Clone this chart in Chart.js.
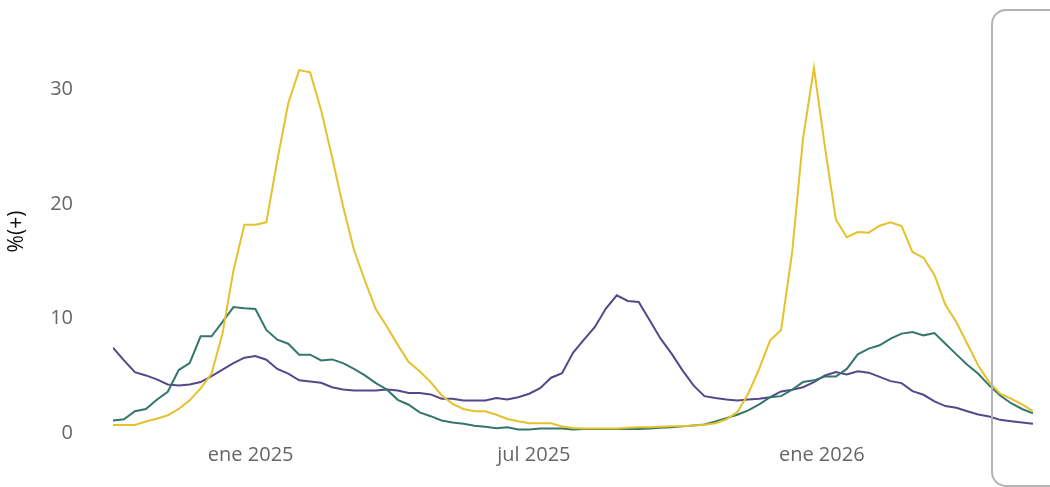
<!DOCTYPE html>
<html>
<head>
<meta charset="utf-8">
<script src="https://cdn.jsdelivr.net/npm/chart.js@4/dist/chart.umd.min.js"></script>
<style>
  html, body { margin: 0; padding: 0; background: #fff; }
  #wrap { width: 1050px; height: 487px; position: relative; }
</style>
</head>
<body>
<div id="wrap"><canvas id="myChart"></canvas></div>
<script>
// weekly series, first week 2024-10-05
var startWeek = '2024-10-05';
var nWeeks = 85;

var yellowVals = [0.7,0.7,0.7,1.0,1.25,1.55,2.1,2.85,3.9,5.2,8.7,14.2,18.2,18.2,18.4,
  23.8,28.8,31.7,31.5,28.2,24.1,19.8,16.0,13.3,10.8,9.3,7.7,6.2,5.4,4.45,
  3.3,2.55,2.1,1.9,1.9,1.6,1.22,1.02,0.85,0.85,0.85,0.57,0.44,0.4,0.4,
  0.4,0.4,0.45,0.5,0.5,0.55,0.6,0.6,0.65,0.72,0.86,1.2,1.82,3.43,5.6,
  8.1,9.0,15.7,25.7,31.9,25.0,18.65,17.1,17.55,17.5,18.1,18.4,18.07,15.8,15.3,
  13.8,11.2,9.7,7.8,5.9,4.45,3.43,3.0,2.5,1.9];

var tealVals = [1.1,1.2,1.9,2.1,2.9,3.6,5.5,6.1,8.45,8.45,9.7,11.0,10.9,10.83,9.0,
  8.15,7.8,6.84,6.84,6.34,6.43,6.1,5.6,5.03,4.36,3.8,2.9,2.47,1.8,1.47,
  1.1,0.92,0.8,0.63,0.54,0.42,0.5,0.3,0.3,0.39,0.39,0.39,0.3,0.35,0.35,
  0.35,0.35,0.35,0.35,0.4,0.45,0.5,0.58,0.66,0.74,1.0,1.3,1.6,1.97,2.5,
  3.13,3.22,3.78,4.45,4.6,4.94,4.94,5.6,6.87,7.37,7.66,8.24,8.68,8.82,8.53,
  8.73,7.8,6.87,5.97,5.18,4.16,3.28,2.6,2.1,1.73];

var purpleVals = [7.45,6.34,5.32,5.03,4.68,4.24,4.16,4.24,4.45,4.97,5.53,6.1,6.58,6.72,6.4,
  5.6,5.18,4.6,4.5,4.39,4.0,3.8,3.72,3.72,3.72,3.8,3.72,3.5,3.5,3.37,
  3.0,3.0,2.84,2.84,2.84,3.05,2.93,3.13,3.43,3.92,4.83,5.23,7.0,8.15,9.26,
  10.87,12.03,11.53,11.44,9.84,8.24,6.93,5.47,4.16,3.22,3.05,2.93,2.84,2.93,2.99,
  3.13,3.63,3.78,4.0,4.45,5.03,5.32,5.12,5.4,5.27,4.9,4.53,4.36,3.66,3.34,
  2.76,2.35,2.2,1.9,1.62,1.44,1.15,1.03,0.92,0.8];

var yTicks = [0, 10, 20, 30];
var xTickDates = ['2025-01-01', '2025-07-01', '2026-01-01'];
var xTickLabels = ['ene 2025', 'jul 2025', 'ene 2026'];
var yTitle = '%(+)';

function dayOf(d) {
  return (Date.parse(d) - Date.parse(startWeek)) / 864e5;
}

var weekDays = [];
for (var i = 0; i < nWeeks; i++) weekDays.push(i * 7);

function toPoints(vals) {
  return vals.map(function (v, i) { return { x: weekDays[i], y: v }; });
}

var xTickDays = xTickDates.map(dayOf);

// rounded grey box at the right edge (legend frame, cut off)
var boxPlugin = {
  id: 'legendBox',
  afterDatasetsDraw: function (chart) {
    var ctx = chart.ctx;
    var x = 992, y = 10, w = 90, h = 476, r = 14;
    ctx.save();
    ctx.strokeStyle = '#b3b3b3';
    ctx.lineWidth = 2;
    ctx.beginPath();
    ctx.moveTo(x + r, y);
    ctx.lineTo(x + w - r, y);
    ctx.arcTo(x + w, y, x + w, y + r, r);
    ctx.lineTo(x + w, y + h - r);
    ctx.arcTo(x + w, y + h, x + w - r, y + h, r);
    ctx.lineTo(x + r, y + h);
    ctx.arcTo(x, y + h, x, y + h - r, r);
    ctx.lineTo(x, y + r);
    ctx.arcTo(x, y, x + r, y, r);
    ctx.closePath();
    ctx.stroke();
    ctx.restore();
  }
};

Chart.defaults.font.family = "'Open Sans', sans-serif";

var ctx = document.getElementById('myChart').getContext('2d');
var chart = new Chart(ctx, {
  type: 'line',
  data: {
    datasets: [
      { label: 'yellow', data: toPoints(yellowVals), borderColor: '#e5c12b', borderWidth: 2 },
      { label: 'teal', data: toPoints(tealVals), borderColor: '#35766c', borderWidth: 2 },
      { label: 'purple', data: toPoints(purpleVals), borderColor: '#55488a', borderWidth: 2 }
    ]
  },
  options: {
    responsive: true,
    maintainAspectRatio: false,
    animation: false,
    layout: { padding: { top: 23, right: 17, bottom: 0, left: 0 } },
    elements: { point: { radius: 0 }, line: { tension: 0 } },
    plugins: { legend: { display: false }, tooltip: { enabled: false } },
    scales: {
      x: {
        type: 'linear',
        min: 0,
        max: weekDays[nWeeks - 1],
        grid: { display: false, drawTicks: false },
        border: { display: false },
        afterBuildTicks: function (scale) {
          scale.ticks = xTickDays.map(function (v) { return { value: v }; });
        },
        afterFit: function (scale) {
          scale.height = 47;
          scale.paddingLeft = 0;
          scale.paddingRight = 0;
        },
        ticks: {
          padding: 3,
          maxRotation: 0,
          autoSkip: false,
          color: '#666',
          font: { size: 20 },
          callback: function (v) {
            var k = xTickDays.indexOf(v);
            return k >= 0 ? xTickLabels[k] : '';
          }
        }
      },
      y: {
        min: -0.61,
        max: 35.81,
        grid: { display: false, drawTicks: false },
        border: { display: false },
        afterBuildTicks: function (scale) {
          scale.ticks = yTicks.map(function (v) { return { value: v }; });
        },
        afterFit: function (scale) {
          scale.width = 113;
          // big tick padding would otherwise push the chart area down
          scale.paddingTop = 0;
          scale.paddingBottom = 0;
        },
        ticks: { padding: 40, color: '#666', font: { size: 20 } },
        title: {
          display: true,
          text: yTitle,
          color: '#111',
          font: { size: 21 },
          padding: { top: 4, bottom: 0 }
        }
      }
    }
  },
  plugins: [boxPlugin]
});
</script>
</body>
</html>
